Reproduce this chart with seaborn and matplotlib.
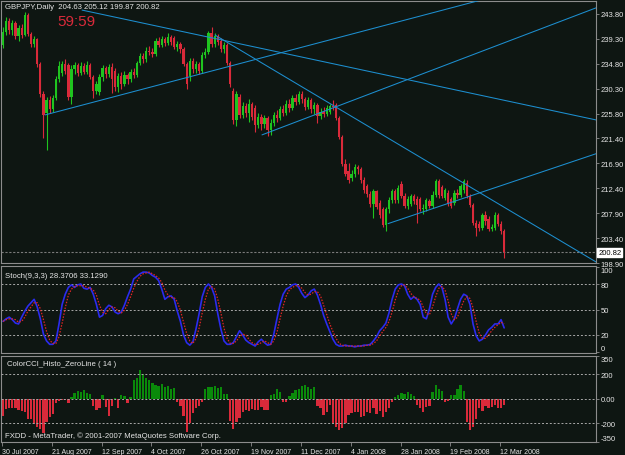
import numpy as np
import pandas as pd
import matplotlib
matplotlib.use("Agg")
import matplotlib.pyplot as plt
import seaborn as sns

# ---------------- data ----------------
opens = [238.2, 240.6, 242.6, 241.0, 242.2, 239.8, 241.2, 240.0, 243.6, 240.2,
         238.4, 239.2, 234.8, 229.4, 226.0, 228.2, 226.6, 228.6, 232.0, 233.2,
         234.8, 234.6, 228.8, 233.8, 234.6, 233.2, 234.4, 233.4, 234.6, 232.4,
         230.0, 229.8, 232.4, 234.0, 233.0, 234.2, 233.5, 230.6, 232.6, 231.2,
         232.8, 232.0, 233.4, 232.8, 235.0, 236.2, 235.6, 237.2, 237.0, 236.6,
         239.0, 238.2, 239.2, 238.6, 239.6, 239.4, 237.8, 238.4, 237.4, 234.8,
         232.6, 235.4, 233.8, 234.8, 233.6, 236.4, 237.0, 240.4, 238.4, 239.8,
         239.0, 237.4, 238.2, 235.0, 230.0, 224.6, 228.8, 225.6, 227.2, 226.0,
         227.6, 226.8, 223.8, 225.2, 224.0, 225.0, 222.8, 224.2, 225.6, 225.0,
         226.6, 226.0, 227.6, 226.8, 228.6, 228.0, 229.4, 228.4, 227.0, 228.2,
         226.6, 227.4, 225.4, 226.2, 225.8, 226.2, 227.2, 227.4, 225.0, 221.6,
         216.8, 215.4, 214.2, 215.0, 216.2, 215.8, 213.8, 212.8, 211.4, 209.6,
         211.8, 209.8, 208.6, 205.8, 208.6, 210.2, 211.8, 210.2, 213.2, 211.0,
         209.2, 209.6, 211.0, 210.4, 210.4, 208.6, 208.6, 210.0, 209.2, 211.2,
         213.6, 212.6, 210.6, 211.6, 210.4, 209.8, 211.6, 211.2, 212.0, 213.4,
         211.0, 209.4, 206.2, 206.0, 205.2, 207.6, 206.8, 205.0, 205.2, 207.6,
         206.0, 204.63]
highs = [241.4, 243.2, 243.0, 242.8, 242.5, 241.8, 242.0, 244.1, 244.0, 240.6,
         239.8, 239.4, 235.2, 230.0, 228.9, 229.0, 229.2, 232.6, 235.4, 235.3,
         235.6, 235.0, 234.6, 235.2, 235.0, 235.1, 235.0, 235.3, 235.0, 232.8,
         231.8, 233.0, 234.6, 234.4, 234.8, 235.0, 234.0, 233.2, 233.4, 233.6,
         233.2, 233.8, 234.0, 235.4, 236.8, 236.8, 237.8, 238.0, 237.6, 239.4,
         239.6, 239.8, 239.6, 240.4, 240.0, 239.8, 238.9, 238.8, 237.8, 235.2,
         235.9, 235.8, 235.4, 235.2, 236.9, 237.6, 240.8, 241.4, 240.3, 240.2,
         239.4, 238.7, 238.6, 235.4, 230.4, 230.0, 229.4, 228.0, 227.8, 228.4,
         228.0, 227.4, 226.0, 225.8, 225.6, 225.4, 224.8, 226.2, 226.4, 227.2,
         227.4, 228.2, 228.4, 229.2, 229.4, 230.0, 229.9, 228.8, 228.8, 228.6,
         228.0, 227.8, 226.8, 227.0, 227.4, 227.6, 228.3, 227.8, 225.4, 222.0,
         217.6, 217.0, 215.6, 216.8, 216.6, 216.2, 214.4, 213.2, 211.8, 212.2,
         212.0, 210.2, 209.0, 209.0, 210.8, 212.3, 212.2, 213.0, 213.6, 211.6,
         211.0, 211.4, 211.4, 211.0, 210.8, 209.6, 210.6, 210.4, 211.8, 214.0,
         214.0, 213.0, 212.4, 212.0, 210.8, 212.0, 212.2, 213.2, 214.0, 213.8,
         211.4, 209.8, 206.6, 206.4, 208.0, 208.2, 207.4, 206.0, 208.1, 208.0,
         206.4, 205.12]
lows = [237.6, 240.0, 240.2, 240.0, 239.2, 239.0, 239.5, 239.8, 239.8, 237.8,
        237.9, 234.2, 228.8, 221.5, 219.3, 226.0, 226.2, 228.2, 231.5, 232.6,
        233.0, 228.2, 227.6, 233.0, 232.6, 232.8, 233.0, 232.9, 232.0, 228.7,
        229.4, 229.2, 231.8, 232.2, 232.5, 229.6, 230.0, 229.8, 230.2, 230.8,
        231.2, 231.6, 232.2, 232.4, 234.6, 235.0, 235.2, 236.4, 236.0, 236.2,
        237.8, 237.8, 238.0, 238.2, 238.2, 237.4, 237.2, 236.8, 234.4, 230.2,
        231.8, 233.2, 233.2, 233.0, 233.2, 235.8, 236.6, 237.8, 237.9, 238.2,
        237.0, 236.8, 234.6, 230.6, 224.0, 223.6, 225.0, 225.0, 225.2, 224.4,
        224.6, 222.6, 223.2, 222.8, 223.2, 221.8, 222.0, 223.6, 224.4, 224.6,
        225.4, 225.6, 226.2, 226.4, 227.4, 227.6, 227.8, 226.4, 226.6, 226.0,
        225.8, 224.2, 224.8, 225.2, 225.4, 225.8, 226.4, 224.6, 221.2, 216.4,
        214.6, 213.4, 213.6, 214.4, 215.0, 213.4, 211.6, 210.8, 209.0, 207.0,
        208.6, 207.0, 205.4, 204.7, 208.0, 209.8, 209.8, 209.8, 210.6, 208.8,
        208.6, 209.2, 209.6, 206.2, 208.2, 207.8, 208.2, 208.8, 208.9, 210.8,
        210.6, 210.6, 210.2, 209.2, 208.8, 209.4, 210.6, 210.8, 211.6, 210.6,
        209.0, 205.8, 203.8, 204.6, 204.9, 205.8, 204.6, 204.6, 204.9, 205.6,
        204.2, 199.87]
closes = [240.6, 242.6, 241.0, 242.2, 239.8, 241.2, 240.0, 243.6, 240.2, 238.4,
          239.2, 234.8, 229.4, 225.6, 228.2, 226.6, 228.6, 232.0, 234.4, 234.8,
          233.6, 228.8, 233.8, 234.6, 233.2, 234.4, 233.4, 234.6, 232.4, 230.0,
          231.2, 232.4, 234.0, 233.0, 234.2, 232.0, 230.6, 232.6, 231.2, 232.8,
          232.0, 233.4, 232.8, 235.0, 236.2, 235.6, 237.2, 237.0, 236.6, 239.0,
          238.2, 239.2, 238.6, 239.6, 238.8, 237.8, 238.4, 237.4, 234.8, 231.2,
          235.4, 233.8, 234.8, 233.6, 236.4, 237.0, 240.4, 238.4, 239.8, 238.8,
          237.4, 238.2, 235.0, 231.2, 224.6, 229.4, 225.6, 227.2, 226.0, 227.6,
          225.2, 223.8, 225.2, 224.0, 225.0, 222.8, 224.2, 225.6, 225.0, 226.6,
          226.0, 227.6, 226.8, 228.6, 228.0, 229.4, 228.4, 227.0, 228.2, 226.6,
          227.4, 225.4, 226.2, 225.8, 226.8, 227.2, 227.0, 225.0, 221.6, 216.8,
          215.0, 213.8, 215.0, 216.2, 215.8, 213.8, 212.0, 211.4, 209.6, 211.8,
          209.0, 207.6, 205.8, 208.6, 210.2, 211.8, 210.2, 212.4, 211.0, 209.2,
          210.4, 211.0, 210.0, 209.4, 208.6, 208.9, 210.2, 209.2, 211.2, 213.6,
          211.2, 211.0, 212.0, 209.6, 209.2, 211.6, 211.2, 212.8, 213.6, 211.0,
          209.4, 206.2, 205.3, 205.2, 207.6, 206.4, 205.0, 205.4, 207.6, 206.0,
          204.63, 200.82]

stoch_k = [36, 39, 41, 38, 34, 33, 41, 48, 54, 58,
           62, 53, 39, 21, 13, 9, 9, 13, 33, 56,
           68, 76, 79, 76, 79, 80, 75, 74, 76, 68,
           56, 41, 43, 51, 55, 53, 47, 45, 47, 55,
           65, 74, 86, 89, 92, 94, 94, 93, 90, 88,
           84, 74, 62, 65, 66, 62, 48, 36, 20, 11,
           8, 12, 27, 45, 65, 76, 80, 76, 66, 45,
           27, 13, 9, 9, 11, 18, 25, 20, 14, 11,
           9, 7, 12, 15, 11, 8, 9, 21, 39, 56,
           68, 74, 76, 79, 80, 76, 69, 64, 67, 72,
           74, 67, 56, 43, 33, 24, 15, 9, 7, 7,
           8, 7, 7, 6, 7, 7, 8, 8, 9, 13,
           18, 25, 29, 34, 46, 62, 74, 79, 80, 78,
           68, 62, 65, 62, 56, 41, 39, 51, 68, 76,
           80, 76, 62, 41, 33, 39, 51, 62, 68, 66,
           56, 33, 19, 13, 15, 20, 26, 29, 33, 33,
           38, 28.37]
stoch_d = [36, 38, 39, 39, 38, 35, 36, 41, 48, 53,
           58, 58, 51, 38, 24, 14, 10, 10, 18, 34,
           52, 67, 74, 77, 78, 78, 78, 76, 75, 73,
           67, 55, 47, 45, 50, 53, 52, 48, 46, 49,
           56, 65, 75, 83, 89, 92, 93, 94, 92, 90,
           87, 82, 73, 67, 64, 64, 59, 49, 35, 22,
           13, 10, 16, 28, 46, 62, 74, 77, 74, 62,
           46, 28, 16, 10, 10, 13, 18, 21, 20, 15,
           11, 9, 9, 11, 13, 11, 9, 13, 23, 39,
           54, 66, 73, 76, 78, 78, 75, 70, 67, 68,
           71, 71, 66, 55, 44, 33, 24, 16, 10, 8,
           7, 7, 7, 7, 7, 7, 7, 8, 8, 10,
           13, 19, 24, 29, 36, 47, 61, 72, 78, 79,
           75, 69, 65, 63, 61, 53, 45, 44, 53, 65,
           75, 77, 73, 60, 45, 38, 41, 51, 60, 65,
           63, 52, 36, 22, 16, 16, 20, 25, 29, 32,
           35, 33.13]
cci = [-140, -85, -75, -78, -75, -95, -100, -110, -165, -170,
       -210, -236, -250, -278, -190, -150, -130, -40, -20, -15,
       -10, -40, 10, 45, 60, 55, 70, 45, 35, -60,
       -95, -80, 30, -70, -140, -60, 5, -80, 25, 20,
       -40, 15, 150, 170, 235, 200, 170, 150, 130, 110,
       100, 115, 90, 100, 80, 85, -30, -60, -140, -275,
       -200, -120, -80, -60, -30, 80, 90, 95, 100, 85,
       90, 40, 35, -180, -250, -190, -160, -110, -90, -100,
       -85, -95, -90, -70, -95, -95, 27, 40, 80, 55,
       -27, -30, 20, 45, 70, 80, 100, 113, 95, 80,
       90, -60, -80, -135, -110, -55, -200, -230, -256, -240,
       -200, -135, -120, -108, -110, -150, -145, -110, -120, -80,
       -130, -100, -150, -110, -80, -27, 10, 27, 45, 40,
       55, 35, 20, -55, -80, -110, -70, -60, 55, 108,
       80, 60, -27, -20, 27, 30, 80, 108, 60, -190,
       -256, -230, -170, -80, -100, -60, -80, -70, -55, -75,
       -80, -55]

date_labels = ["30 Jul 2007", "21 Aug 2007", "12 Sep 2007", "4 Oct 2007",
               "26 Oct 2007", "19 Nov 2007", "11 Dec 2007", "4 Jan 2008",
               "28 Jan 2008", "19 Feb 2008", "12 Mar 2008"]
date_label_bars = [0, 16, 32, 48, 64, 80, 96, 112, 128, 144, 160]
price_ticks = [243.80, 239.30, 234.80, 230.30, 225.80, 221.40,
               216.90, 212.40, 207.90, 203.40, 198.90]
last_price = 200.82
# trend lines: (bar, price) anchor pairs, drawn as rays to the right
trend_a = [(13.5, 225.6), (25.4, 244.5), (68.1, 240.0), (83.2, 222.0), (123.7, 206.0)]
trend_b = [(73.0, 234.4), (190.5, 224.7), (106.7, 227.1), (190.5, 244.9), (190.5, 218.6)]

# ---------------- style ----------------
W, H = 625, 456
BG = '#0e1612'
FG = '#e6e6e6'
GRID = '#a8a8a8'
FRAME = '#8c8c8c'
UP = '#1fc41f'
DOWN = '#d92a3a'
CCI_UP = '#0a8a0a'
TREND = '#1d8fd0'

sns.set_theme(style='dark', rc={'axes.facecolor': BG, 'figure.facecolor': BG})
plt.rcParams['font.family'] = ['Liberation Sans', 'DejaVu Sans']

df = pd.DataFrame({'bar': np.arange(len(closes)), 'open': opens, 'high': highs,
                   'low': lows, 'close': closes, 'k': stoch_k, 'd': stoch_d, 'cci': cci})

fig = plt.figure(figsize=(W / 100, H / 100), dpi=100, facecolor=BG)


def box(x0, top, x1, bottom):
    return [x0 / W, 1 - bottom / H, (x1 - x0) / W, (bottom - top) / H]


def fpos(x, y):
    return x / W, 1 - y / H


ax1 = fig.add_axes(box(1, 2, 596, 264))
ax2 = fig.add_axes(box(1, 267, 596, 354), sharex=ax1)
ax3 = fig.add_axes(box(1, 357, 596, 443), sharex=ax1)

for ax in (ax1, ax2, ax3):
    ax.set_facecolor(BG)
    ax.grid(False)
    for s in ax.spines.values():
        s.set_color(FRAME)
        s.set_linewidth(0.8)
    ax.yaxis.tick_right()
    ax.tick_params(axis='y', colors=FRAME, labelcolor=FG, length=2, width=0.6,
                   pad=1.5, labelsize=5.5, right=True, left=False)
    ax.set_xlabel('')
    ax.set_ylabel('')

ax1.set_xlim(-0.64, 190.5)

# ---- candles ----
up = df['close'] >= df['open']
cols = np.where(up, UP, DOWN)
ax1.vlines(df['bar'], df['low'], df['high'], colors=cols, linewidth=0.8, zorder=2)
body = (df['close'] - df['open']).abs().clip(lower=0.1)
ax1.bar(df['bar'], body, bottom=np.minimum(df['open'], df['close']), width=0.74,
        color=cols, linewidth=0, zorder=3)

# trend lines (rays)
for (xa, ya), (xb, yb) in zip(trend_a, trend_b):
    slope = (yb - ya) / (xb - xa)
    xe = 200.0
    ax1.plot([xa, xe], [ya, ya + slope * (xe - xa)], color=TREND, lw=0.75, zorder=4)

ax1.axhline(last_price, color='#7a7a7a', lw=0.8, ls=(0, (2, 1.5)), zorder=1)
ax1.set_ylim(198.98, 246.14)
ax1.set_yticks(price_ticks)
ax1.set_yticklabels([f'{v:.2f}' for v in price_ticks])
ax1.tick_params(axis='x', bottom=False, labelbottom=False)
ax1.text(1.0035, last_price, f'{last_price:.2f}', transform=ax1.get_yaxis_transform(),
         ha='left', va='center', fontsize=5.5, color='black',
         bbox=dict(boxstyle='square,pad=0.15', facecolor='white', edgecolor='white'),
         zorder=10, clip_on=False)

# ---- stochastic ----
sns.lineplot(data=df, x='bar', y='k', ax=ax2, color='#2b2bee', lw=1.2, zorder=3)
sns.lineplot(data=df, x='bar', y='d', ax=ax2, color='#e02525', lw=0.9,
             linestyle=(0, (1.2, 1.2)), zorder=4)
for lvl in (80, 50, 20):
    ax2.axhline(lvl, color=GRID, lw=0.7, ls=(0, (2, 2)), zorder=1)
ax2.set_ylim(-1.2, 101.2)
ax2.set_yticks([100, 80, 50, 20, 0])
ax2.set_yticklabels(['100', '80', '50', '20', '0'])
ax2.get_yticklabels()[0].set_va('top')
ax2.get_yticklabels()[-1].set_va('bottom')
ax2.tick_params(axis='x', bottom=False, labelbottom=False)
ax2.set_xlabel('')
ax2.set_ylabel('')

# ---- CCI histogram ----
ax3.bar(df['bar'], df['cci'], width=0.74,
        color=np.where(df['cci'] >= 0, CCI_UP, DOWN), linewidth=0, zorder=2)
for lvl in (200, 0, -200):
    ax3.axhline(lvl, color=GRID, lw=0.7, ls=(0, (2, 2)), zorder=3)
ax3.set_ylim(-355, 347)
ax3.set_yticks([347, 200, 0, -200, -355])
ax3.set_yticklabels(['350', '200', '0.00', '-200', '-350'])
ax3.get_yticklabels()[0].set_va('top')
ax3.get_yticklabels()[-1].set_va('bottom')
ax3.set_xticks([b - 0.3 for b in date_label_bars])
ax3.set_xticklabels(date_labels)
ax3.tick_params(axis='x', colors=FRAME, labelcolor=FG, length=3, width=0.6,
                direction='out', pad=1.5, labelsize=5, bottom=True)
for lbl in ax3.get_xticklabels():
    lbl.set_ha('left')
ax3.set_xlabel('')
ax3.set_ylabel('')

# ---- texts ----
fig.text(*fpos(5, 7.5), 'GBPJPY,Daily  204.63 205.12 199.87 200.82', fontsize=5.6,
         color=FG, ha='left', va='center')
fig.text(*fpos(57, 22), '59:59', fontsize=11, color=DOWN, ha='left', va='center')
fig.text(*fpos(5, 276), 'Stoch(9,3,3) 28.3706 33.1290', fontsize=5.6,
         color=FG, ha='left', va='center')
fig.text(*fpos(7, 364), 'ColorCCI_Histo_ZeroLine ( 14 )', fontsize=5.6,
         color=FG, ha='left', va='center')
fig.text(*fpos(5, 436.5), 'FXDD - MetaTrader, \u00a9 2001-2007 MetaQuotes Software Corp.',
         fontsize=5.6, color=FG, ha='left', va='center')

fig.savefig('out.png', dpi=100, facecolor=BG)
